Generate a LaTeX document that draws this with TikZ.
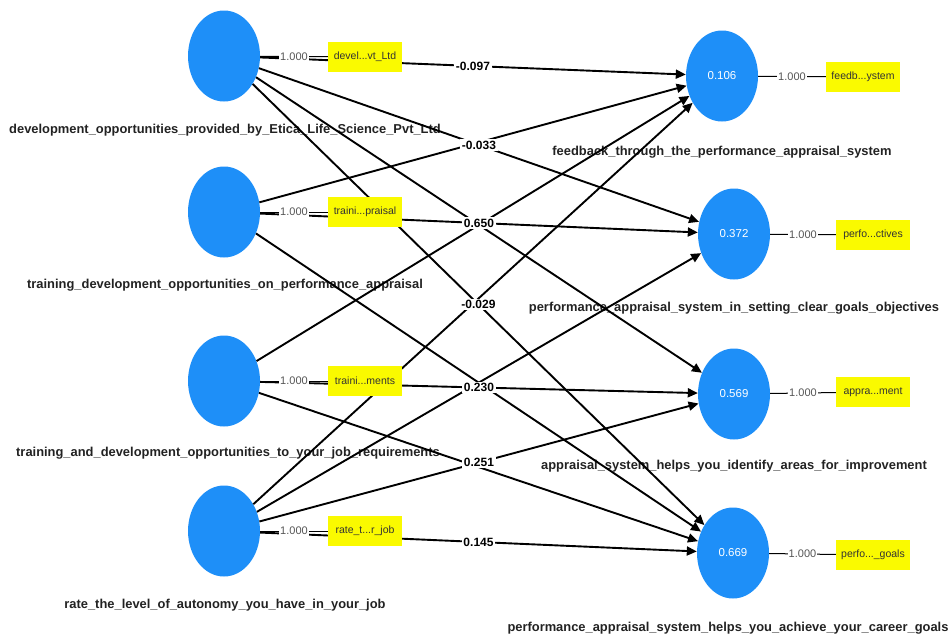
\documentclass[tikz,border=0pt]{standalone}
\usepackage{fontspec}
\setmainfont{Liberation Sans}
\usepackage{tikz}
\usetikzlibrary{shapes.geometric, arrows.meta, positioning}
\definecolor{lvblue}{HTML}{1E8FF8}
\definecolor{indyellow}{HTML}{FAFA00}
\definecolor{wtgray}{HTML}{555555}
\definecolor{namegray}{HTML}{222222}

\begin{document}
\begin{tikzpicture}[x=1pt, y=-1pt,
    lv/.style={ellipse, fill=lvblue, minimum width=72pt, minimum height=91pt,
               inner sep=0pt, text=white, font=\fontsize{11.5}{11.5}\selectfont},
    ind/.style={rectangle, fill=indyellow, minimum width=74pt, minimum height=30pt,
                inner sep=1pt, text=black!80, font=\fontsize{10.5}{10.5}\selectfont},
    lvname/.style={text=namegray, font=\bfseries\fontsize{12.9}{12.9}\selectfont},
    arr/.style={-{Triangle[length=10pt, width=9pt]}, line width=1.9pt},
    coef/.style={fill=white, inner sep=1.5pt, font=\bfseries\fontsize{12}{12}\selectfont},
    load/.style={fill=white, inner sep=1pt, text=wtgray, font=\fontsize{11}{11}\selectfont},
    loadline/.style={line width=1pt}
]
\useasboundingbox (0,0) rectangle (950,637);

% exogenous constructs
\node[lv] (dev) at (224,56) {};
\node[lv] (train) at (224,212) {};
\node[lv] (tdjob) at (224,381) {};
\node[lv] (auto) at (224,531) {};
\node[lvname] (devN) at (225,130) {development\_opportunities\_provided\_by\_Etica\_Life\_Science\_Pvt\_Ltd};
\node[lvname] (trainN) at (225,285) {training\_development\_opportunities\_on\_performance\_appraisal};
\node[lvname] (tdjobN) at (228,453) {training\_and\_development\_opportunities\_to\_your\_job\_requirements};
\node[lvname] (autoN) at (225,605) {rate\_the\_level\_of\_autonomy\_you\_have\_in\_your\_job};

% endogenous constructs
\node[lv] (feed) at (722,76) {0.106};
\node[lv] (goals) at (734,234) {0.372};
\node[lv] (improve) at (734,394) {0.569};
\node[lv] (career) at (733,553) {0.669};
\node[lvname] (feedN) at (722,152) {feedback\_through\_the\_performance\_appraisal\_system};
\node[lvname] (goalsN) at (734,308) {performance\_appraisal\_system\_in\_setting\_clear\_goals\_objectives};
\node[lvname] (improveN) at (734,466) {appraisal\_system\_helps\_you\_identify\_areas\_for\_improvement};
\node[lvname] (careerN) at (728,628) {performance\_appraisal\_system\_helps\_you\_achieve\_your\_career\_goals};

% structural paths
\draw[arr] (dev) -- (feed);
\draw[arr] (dev) -- (goals);
\draw[arr] (dev) -- (improve);
\draw[arr] (dev) -- (career);
\draw[arr] (train) -- (feed);
\draw[arr] (train) -- (goals);
\draw[arr] (train) -- (career);
\draw[arr] (tdjob) -- (feed);
\draw[arr] (tdjob) -- (improve);
\draw[arr] (tdjob) -- (career);
\draw[arr] (auto) -- (feed);
\draw[arr] (auto) -- (goals);
\draw[arr] (auto) -- (improve);
\draw[arr] (auto) -- (career);

% path coefficients
\path (dev) -- node[coef] {-0.097} (feed);
\path (dev) -- node[coef] {-0.033} (goals);
\path (train) -- node[coef] {0.650} (goals);
\path (dev) -- node[coef] {-0.029} (career);
\path (tdjob) -- node[coef] {0.230} (improve);
\path (auto) -- node[coef] {0.251} (improve);
\path (auto) -- node[coef] {0.145} (career);

% indicators
\node[ind] (devI) at (365,57) {devel...vt\_Ltd};
\node[ind] (trainI) at (365,212) {traini...praisal};
\node[ind] (tdjobI) at (365,381) {traini...ments};
\node[ind] (autoI) at (365,531) {rate\_t...r\_job};
\node[ind] (feedI) at (863,77) {feedb...ystem};
\node[ind] (goalsI) at (873,235) {perfo...ctives};
\node[ind] (improveI) at (873,392) {appra...ment};
\node[ind] (careerI) at (873,555) {perfo...\_goals};

\draw[loadline] (dev) -- node[load] {1.000} (devI);
\draw[loadline] (train) -- node[load] {1.000} (trainI);
\draw[loadline] (tdjob) -- node[load] {1.000} (tdjobI);
\draw[loadline] (auto) -- node[load] {1.000} (autoI);
\draw[loadline] (feed) -- node[load] {1.000} (feedI);
\draw[loadline] (goals) -- node[load] {1.000} (goalsI);
\draw[loadline] (improve) -- node[load] {1.000} (improveI);
\draw[loadline] (career) -- node[load] {1.000} (careerI);
\end{tikzpicture}
\end{document}
